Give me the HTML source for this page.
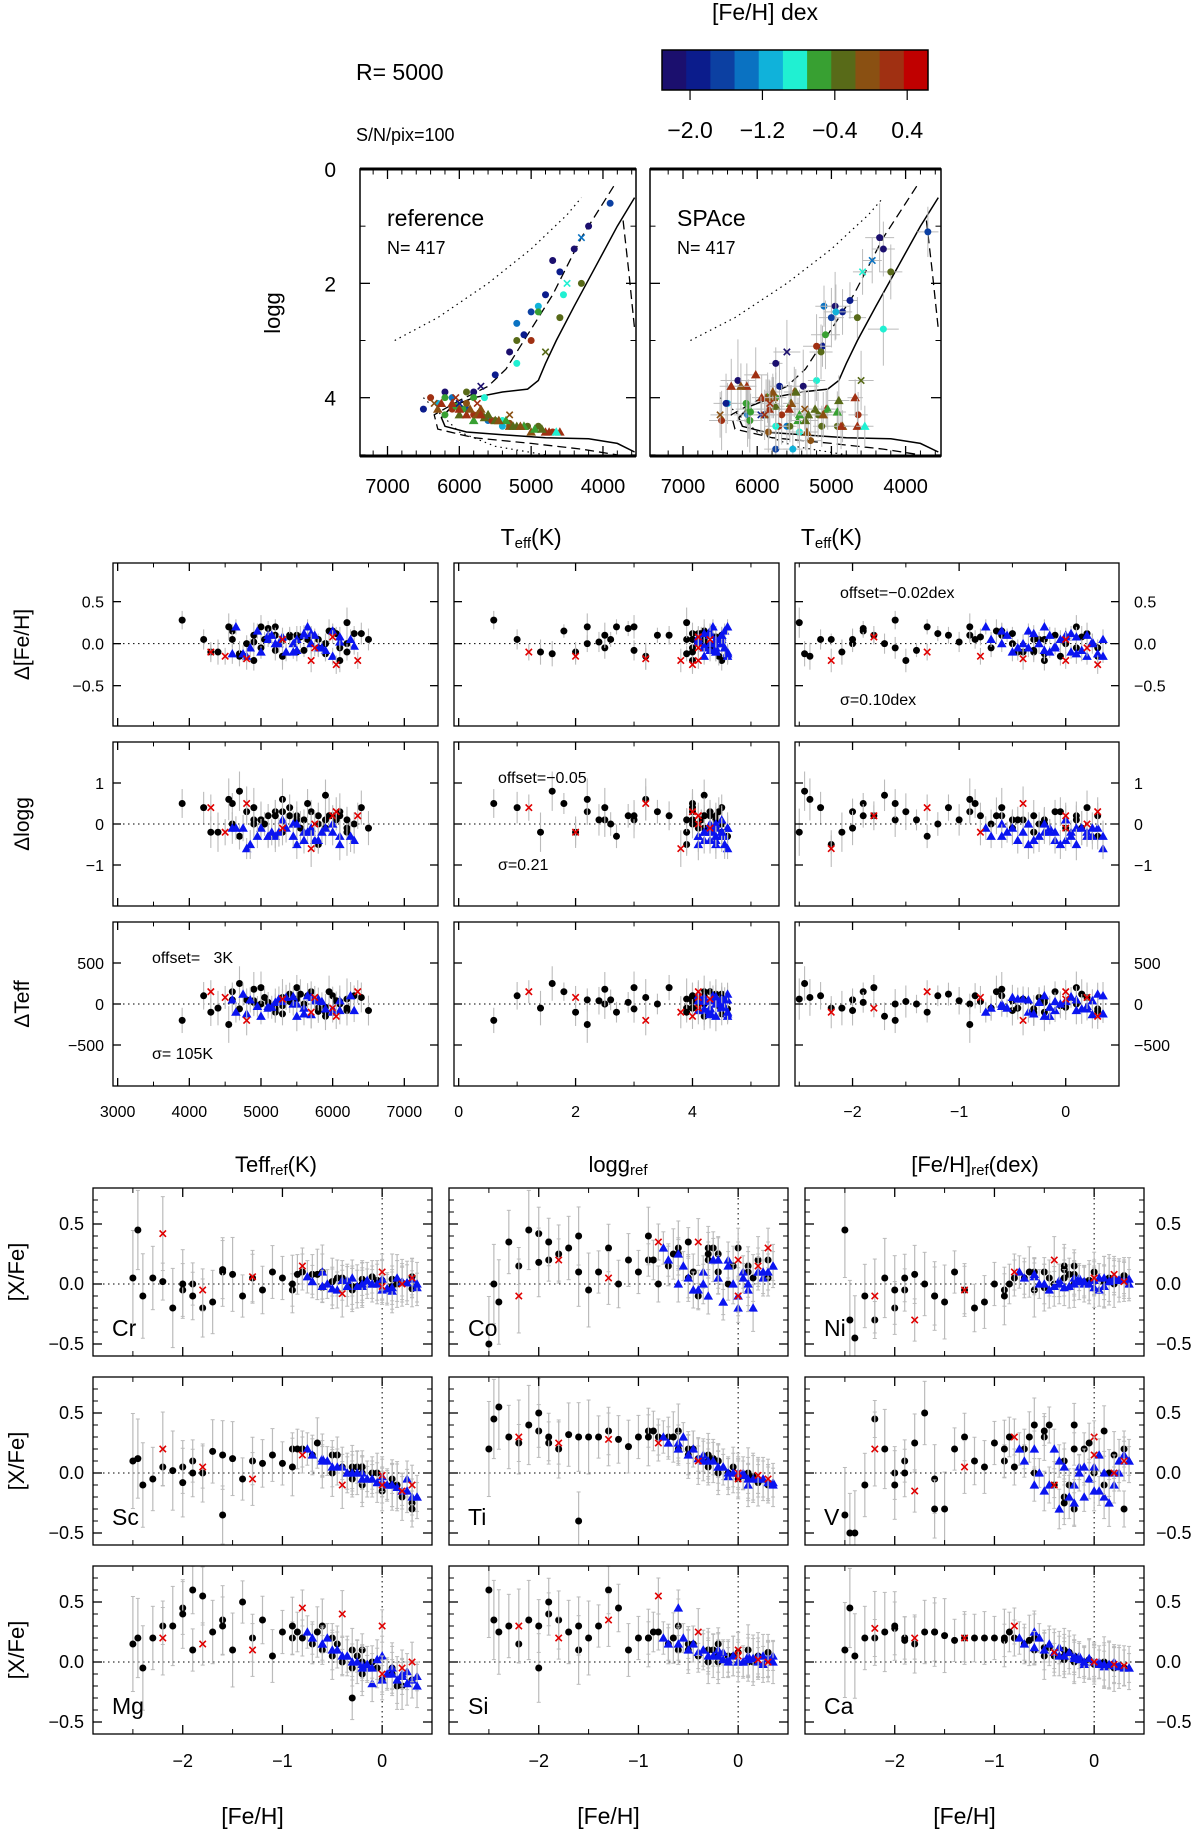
<!DOCTYPE html>
<html><head><meta charset="utf-8">
<style>
html,body{margin:0;padding:0;background:#fff;}
svg{display:block;font-family:"Liberation Sans",Arial,sans-serif;}
</style></head>
<body>
<svg id="chart" width="1200" height="1831" viewBox="0 0 1200 1831" xmlns="http://www.w3.org/2000/svg"></svg>
<script>
// ---------- data ----------
const starTeff=[4200,4400,4600,4800,5000,5200,5300,5500,5800,6100,6300,5900,6200,5600,5400,6500,4700,5100,3900,4300,5700,6000,4900,4500,5200,5800,6000,6200,5500,5300,4900,5700,5900,6100,6400,4700,5000,4600,4300,5400,5600,5800,6000,5200,5000,5500,5700,5900,6100,4800,5300,5650,6300,4600,5100,5450,6050,5300,4800,5750,5100,5350,5600,5850,6100,4750,4950,5250,5500,5750,6000,6250,4650,4850,5150,5450,5700,5950,6200,5050,5300,5550,5800,6050,4900,5200,5650,5900,4550,6350];
const starLogg=[1.0,1.4,1.8,2.2,2.5,2.7,3.2,3.6,3.9,4.0,4.1,4.2,3.9,4.4,4.5,4.2,1.6,2.9,0.6,1.2,3.8,4.1,2.4,2.0,3.4,4.0,4.2,4.3,4.4,4.5,4.5,4.3,4.1,4.2,4.0,4.6,3.0,2.6,2.0,4.4,4.3,4.4,4.3,4.5,4.6,4.4,4.2,4.3,4.1,4.6,4.5,4.35,4.2,4.6,4.5,4.4,4.0,4.3,3.2,4.1,4.5,4.4,4.3,4.2,4.1,4.6,4.55,4.5,4.4,4.3,4.2,4.1,4.6,4.55,4.5,4.4,4.3,4.2,4.0,4.5,4.45,4.4,4.3,4.15,2.5,3.0,4.0,3.9,2.2,4.1];
const starFeh=[-2.3,-2.1,-1.9,-2.0,-1.6,-1.3,-2.4,-1.8,-2.2,-1.5,-1.2,-1.7,-2.5,-1.4,-1.1,-2.0,-2.45,-1.9,-1.6,-1.3,-2.2,-1.8,-1.0,-0.8,-0.9,-0.7,-0.6,-0.5,-0.4,-0.3,-0.2,-0.1,0.0,0.1,0.2,0.3,0.1,-0.2,-0.3,-0.8,-0.55,-0.45,-0.35,-0.25,-0.15,-0.05,0.05,0.15,0.25,0.35,0.0,-0.2,-0.1,0.1,0.2,-0.6,0.3,0.0,-0.4,0.2,-0.7,-0.5,-0.3,-0.1,0.1,0.3,-0.6,-0.4,-0.2,0.0,0.2,0.35,-0.75,-0.35,-0.15,0.05,0.25,-0.65,-0.45,-0.25,-0.05,0.15,0.3,-0.5,-0.6,-0.3,-0.85,-0.2,-0.9,0.0];
const starType=[0,0,0,0,0,0,0,0,0,0,0,0,0,0,0,0,0,0,0,1,1,1,0,1,0,0,0,0,0,0,0,0,0,0,0,0,0,0,0,0,2,2,2,2,2,2,2,2,2,2,2,2,2,2,2,2,1,1,1,1,2,2,2,2,2,2,2,2,2,2,2,2,2,2,2,2,2,0,0,0,0,0,0,0,0,0,0,0,0,1];
const dFe=[0.05,-0.1,0.15,0.0,-0.05,0.2,-0.15,0.1,0.05,-0.2,0.12,0.0,0.25,-0.08,0.1,0.05,-0.12,0.18,0.28,-0.1,-0.2,0.08,0.02,-0.15,0.1,-0.05,0.15,0.0,-0.1,0.05,-0.2,0.1,0.0,-0.05,0.12,-0.15,0.2,0.05,-0.1,0.08,0.1,-0.05,0.15,0.0,-0.1,0.05,0.12,-0.08,0.02,-0.15,0.08,0.2,-0.03,-0.12,0.1,0.0,-0.25,0.05,-0.18,-0.05,0.05,-0.1,0.12,-0.05,0.08,-0.12,0.15,0.0,-0.08,0.1,-0.15,0.05,0.2,-0.05,0.1,-0.1,0.0,0.15,-0.1,0.05,-0.15,0.08,-0.05,0.12,0.1,-0.08,0.05,-0.12,0.2,-0.2];
const dLogg=[0.4,-0.2,0.5,0.3,0.1,-0.3,0.6,0.2,-0.5,0.3,0.0,0.7,-0.2,0.1,0.4,-0.1,0.8,0.2,0.5,0.4,-0.6,0.2,0.1,-0.2,0.3,0.0,0.2,-0.1,0.1,-0.2,0.0,0.3,-0.1,0.2,0.4,-0.3,0.1,0.0,-0.2,0.2,-0.2,-0.4,0.0,-0.3,-0.1,-0.5,-0.2,-0.1,-0.3,-0.6,0.1,-0.2,-0.4,-0.1,-0.3,0.0,0.3,-0.1,0.5,0.0,-0.3,-0.1,-0.4,-0.2,-0.5,-0.1,-0.3,-0.2,0.0,-0.4,-0.2,-0.3,-0.1,-0.5,-0.2,-0.3,-0.1,0.2,0.1,0.0,0.3,-0.1,0.2,0.1,0.4,0.2,0.5,0.1,0.6,0.2];
const dTeff=[100,-50,150,50,0,-100,80,200,-50,30,100,-150,60,0,120,-80,250,20,-200,150,-100,-50,40,80,0,-50,100,-80,60,-120,20,150,-40,0,80,-60,200,50,-100,30,-50,60,-100,20,-150,0,80,-60,40,-120,30,100,-80,50,-30,0,-150,60,-200,80,-50,80,-120,30,-80,120,-30,60,-150,40,-60,100,-100,50,-40,90,-130,150,-50,80,-20,120,-90,40,180,-60,100,-100,-250,150];
const errScale=[1.2,1.5,0.8,1.0,1.3,0.9,1.6,1.1,0.7,1.4,0.9,1.2,1.8,0.8,1.0,1.3,1.5,0.9,1.1,1.0,1.4,0.8,1.2,1.0,0.9,1.1,0.8,1.3,0.7,1.0,1.2,0.9,1.1,0.8,1.3,1.0,1.4,0.9,1.2,1.0,0.8,1.0,0.9,1.2,0.7,1.1,0.9,1.3,1.0,0.8,1.1,0.9,1.0,1.2,0.8,1.0,1.1,0.9,1.3,1.0,0.9,1.1,1.0,0.8,1.2,1.0,0.9,1.1,1.3,0.8,1.0,1.2,0.9,1.1,1.0,0.8,1.2,1.4,1.0,0.9,1.1,1.3,1.0,0.8,1.5,1.2,1.1,0.9,1.6,1.0];
const abCr=[0.05,-0.2,0.0,-0.05,0.1,0.05,-0.1,-0.2,0.02,0.08,-0.05,-0.15,0.05,-0.1,0.1,0.0,0.45,-0.1,0.12,0.06,0.42,-0.05,0.05,0.15,-0.05,0.08,-0.03,0.02,0.05,-0.02,0.0,0.06,0.03,-0.02,0.01,-0.04,0.04,0.0,-0.03,0.1,0.0,-0.05,0.03,-0.02,0.02,0.0,-0.04,0.05,0.01,-0.03,0.04,-0.02,0.0,-0.06,0.02,0.1,0.05,-0.02,-0.08,0.0,0.02,-0.04,0.05,0.0,-0.03,0.04,-0.02,0.03,0.0,-0.05,0.02,0.0,0.06,-0.02,0.03,-0.04,0.01,0.08,0.05,-0.02,0.03,0.0,0.06,0.02,0.1,-0.05,0.08,0.04,0.0,0.1];
const abCo=[0.35,0.45,0.2,0.42,0.1,0.3,-0.15,0.25,0.15,-0.05,0.0,0.3,-0.5,0.1,0.2,0.18,0.0,0.35,0.4,0.05,-0.1,0.2,0.1,0.35,0.2,0.15,0.25,0.05,-0.1,0.2,0.1,0.0,0.3,0.15,0.2,0.05,0.1,0.25,0.3,0.0,0.15,-0.05,0.1,0.2,-0.15,0.0,0.1,-0.2,0.05,0.15,-0.1,0.05,0.2,-0.05,0.1,0.0,0.3,-0.1,0.35,0.15,0.2,0.05,-0.1,0.15,0.0,0.1,0.25,-0.05,0.2,-0.2,0.1,0.15,0.3,0.0,-0.15,0.05,0.1,0.25,0.1,0.3,0.15,0.05,0.2,0.35,0.3,0.25,0.2,0.1,0.4,0.2];
const abNi=[-0.1,0.05,-0.05,-0.2,-0.1,-0.05,-0.45,0.08,-0.3,-0.15,-0.2,0.0,0.45,0.1,-0.15,-0.05,-0.3,0.05,-0.1,-0.05,-0.1,-0.3,0.0,0.1,-0.05,0.05,0.1,-0.03,0.0,0.05,0.08,0.02,0.1,0.03,0.0,0.05,0.02,0.0,0.15,0.05,0.0,-0.05,0.03,-0.02,0.05,0.0,-0.05,0.02,0.04,0.0,-0.03,0.05,0.0,-0.02,0.03,0.06,0.02,0.05,0.2,0.08,0.05,0.0,-0.03,0.02,0.05,0.03,0.08,-0.02,0.0,0.03,0.06,0.04,0.1,0.0,0.02,0.05,0.03,0.1,0.05,0.08,0.03,0.05,0.07,0.1,-0.05,0.12,0.0,0.15,-0.1,0.05];
const abSc=[-0.05,0.02,0.1,0.05,0.15,0.1,-0.1,0.0,0.05,0.12,0.08,0.18,0.1,-0.05,0.15,-0.08,0.12,0.0,-0.35,-0.05,0.2,0.05,0.08,0.15,0.2,0.15,0.1,0.0,0.05,-0.05,-0.1,0.0,-0.15,-0.05,-0.2,-0.3,-0.1,0.05,0.0,0.2,0.1,0.05,0.0,0.0,-0.05,-0.08,-0.1,-0.12,-0.05,-0.2,-0.03,0.0,-0.05,-0.1,-0.15,0.12,-0.1,-0.02,-0.1,-0.15,0.15,0.05,0.0,-0.05,-0.1,-0.2,0.1,0.05,-0.05,-0.08,-0.15,-0.2,0.2,0.0,-0.05,-0.1,-0.15,0.25,0.15,0.05,0.0,-0.1,-0.25,0.15,0.1,0.05,0.2,0.0,0.05,-0.1];
const abTi=[0.3,0.4,0.25,0.35,0.3,0.35,0.55,0.2,0.25,0.3,0.28,0.32,0.2,0.3,0.22,0.5,0.45,0.3,-0.4,0.28,0.3,0.25,0.3,0.25,0.35,0.3,0.2,0.15,0.12,0.05,0.0,0.0,-0.05,-0.05,-0.08,-0.1,0.0,0.1,0.15,0.3,0.3,0.2,0.15,0.1,0.05,0.0,0.0,-0.05,-0.05,-0.08,0.0,0.05,-0.03,-0.1,-0.05,0.25,-0.05,0.0,0.1,-0.02,0.25,0.15,0.1,0.0,-0.05,-0.08,0.2,0.12,0.05,0.0,-0.05,-0.1,0.3,0.1,0.05,-0.02,-0.05,0.3,0.2,0.12,0.05,-0.03,-0.08,0.2,0.35,0.1,0.35,0.1,0.3,-0.05];
const abV=[-0.1,0.2,0.1,0.0,-0.05,0.3,-0.5,0.25,0.45,-0.3,0.1,0.5,-0.35,0.2,0.05,-0.1,-0.5,0.0,-0.3,0.05,0.2,-0.15,0.25,0.3,0.1,0.2,0.0,0.3,-0.1,0.1,0.4,0.2,0.0,-0.1,0.15,-0.3,0.35,0.2,-0.2,0.05,0.0,-0.1,0.1,-0.2,0.05,-0.05,0.15,-0.25,0.0,0.1,-0.15,-0.1,0.05,-0.2,0.0,0.2,0.1,0.3,-0.1,0.0,0.1,-0.15,0.05,-0.2,0.0,0.15,-0.1,0.2,-0.25,0.05,-0.1,0.1,0.2,-0.3,0.0,-0.15,0.1,0.3,0.4,-0.1,0.25,0.0,0.2,0.35,0.4,-0.25,0.3,-0.3,0.2,0.15];
const abMg=[0.2,0.3,0.1,0.45,0.35,0.2,-0.05,0.55,0.3,0.1,0.35,0.25,0.15,0.5,0.05,0.4,0.2,0.6,0.3,0.1,0.2,0.15,0.25,0.45,0.2,0.15,0.1,0.05,0.0,-0.05,-0.1,0.0,-0.15,-0.1,-0.2,-0.15,-0.05,0.1,-0.3,0.2,0.2,0.1,0.05,0.0,-0.05,0.02,-0.1,-0.15,-0.08,-0.12,0.05,-0.02,-0.18,-0.05,-0.1,0.15,0.0,0.3,0.4,-0.05,0.2,0.1,0.0,-0.05,-0.1,-0.15,0.15,0.05,-0.05,-0.15,-0.12,-0.2,0.25,0.05,-0.02,-0.1,-0.18,0.25,0.15,0.05,-0.05,-0.2,-0.15,0.2,0.3,0.1,0.25,0.0,0.3,-0.1];
const abSi=[0.3,0.35,0.4,0.3,0.1,0.6,0.25,0.35,0.15,0.2,0.45,0.25,0.6,0.3,0.1,-0.05,0.35,0.5,0.3,0.35,0.3,0.2,0.2,0.55,0.2,0.15,0.1,0.1,0.05,0.1,0.0,0.05,0.08,0.0,0.05,0.02,0.1,0.15,0.0,0.25,0.2,0.15,0.1,0.05,0.08,0.05,0.0,0.03,-0.02,0.05,0.0,0.1,0.02,0.05,0.0,0.45,0.0,0.05,0.25,0.02,0.15,0.1,0.05,0.0,0.02,0.03,0.15,0.08,0.05,0.0,0.05,0.0,0.2,0.1,0.02,0.0,0.05,0.2,0.15,0.1,0.05,0.0,0.08,0.15,0.3,0.1,0.25,0.05,0.2,0.1];
const abCa=[0.2,0.25,0.2,0.28,0.25,0.2,0.05,0.15,0.2,0.22,0.2,0.25,0.1,0.18,0.2,0.3,0.45,0.18,0.25,0.2,0.28,0.2,0.2,0.3,0.18,0.15,0.1,0.05,0.05,0.02,0.0,0.0,-0.02,-0.03,-0.05,-0.05,0.0,0.05,0.1,0.2,0.2,0.15,0.12,0.08,0.05,0.03,0.0,-0.02,-0.03,-0.05,0.0,0.05,-0.02,-0.04,0.0,0.25,-0.03,0.0,0.08,-0.02,0.15,0.1,0.05,0.0,-0.02,-0.05,0.12,0.08,0.03,0.0,-0.03,-0.05,0.2,0.05,0.02,-0.02,-0.04,0.18,0.12,0.08,0.02,-0.03,-0.05,0.12,0.2,0.05,0.25,0.03,0.2,0.0];
const isoSolidTeff=[3560,3800,4100,4400,4650,4800,4900,5050,5400,5800,6100,6250,6200,5900,5400,4800,4200,3800,3560];
const isoSolidLogg=[0.5,1.0,1.7,2.4,3.0,3.4,3.7,3.85,3.9,4.0,4.15,4.35,4.5,4.6,4.65,4.7,4.72,4.8,4.95];
const isoDashTeff=[3850,4300,4700,5100,5350,5600,6000,6350,6300,5800,5000,4300,3800];
const isoDashLogg=[0.3,1.2,2.2,3.0,3.5,3.8,4.05,4.3,4.55,4.7,4.8,4.9,5.0];
const isoDash2Teff=[3720,3640,3560];
const isoDash2Logg=[0.9,1.8,2.8];
const isoDotTeff=[6900,6300,5600,5000,4500,4300];
const isoDotLogg=[3.0,2.6,2.0,1.4,0.8,0.5];
const isoDot2Teff=[6500,6000,5500,4800,4200];
const isoDot2Logg=[4.0,4.6,4.85,5.0,5.1];
const cbColors=['#1b0f6e','#0b1c8c','#0c40a2','#0a72c2','#10b2da','#20f0d2','#38a032','#586a18','#8a5012','#a03012','#c00000'];
const cbTicks=[-2.0,-1.2,-0.4,0.4];
const cbLabels=['\u22122.0','\u22121.2','\u22120.4','0.4'];

// ---------- helpers ----------
const NS='http://www.w3.org/2000/svg';
const svg=document.getElementById('chart');
let clipId=0;
function mk(tag,attrs,parent){const e=document.createElementNS(NS,tag);for(const k in attrs)e.setAttribute(k,attrs[k]);(parent||svg).appendChild(e);return e;}
function txt(s,x,y,size,anchor,parent){const t=mk('text',{x:x,y:y,'font-size':size,'text-anchor':anchor||'start',fill:'#000'},parent);t.textContent=s;return t;}
function panel(name,x0,y0,w,h,xd,yd){
  const g=mk('g',{});
  
  
  const cid='c'+(clipId++);
  const cp=mk('clipPath',{id:cid},g);mk('rect',{x:x0,y:y0,width:w,height:h},cp);
  const inner=mk('g',{'clip-path':'url(#'+cid+')'},g);
  return {x0,y0,w,h,g,inner,
    sx:v=>x0+(v-xd[0])/(xd[1]-xd[0])*w,
    sy:v=>y0+h-(v-yd[0])/(yd[1]-yd[0])*h};
}
function frame(p,sw){const r=mk('rect',{x:p.x0,y:p.y0,width:p.w,height:p.h,fill:'none',stroke:'#000','stroke-width':sw||1.5},p.g);}
function ticks(p,xs,ys,xminor,yminor,L){
  L=L||9;const l=L*0.55;
  const b=p.y0+p.h,t=p.y0,lft=p.x0,rt=p.x0+p.w;
  xs.forEach(v=>{const x=p.sx(v);mk('line',{x1:x,x2:x,y1:b,y2:b-L,stroke:'#000','stroke-width':1.3},p.g);mk('line',{x1:x,x2:x,y1:t,y2:t+L,stroke:'#000','stroke-width':1.3},p.g);});
  xminor.forEach(v=>{const x=p.sx(v);mk('line',{x1:x,x2:x,y1:b,y2:b-l,stroke:'#000','stroke-width':1},p.g);mk('line',{x1:x,x2:x,y1:t,y2:t+l,stroke:'#000','stroke-width':1},p.g);});
  ys.forEach(v=>{const y=p.sy(v);mk('line',{x1:lft,x2:lft+L,y1:y,y2:y,stroke:'#000','stroke-width':1.3},p.g);mk('line',{x1:rt,x2:rt-L,y1:y,y2:y,stroke:'#000','stroke-width':1.3},p.g);});
  yminor.forEach(v=>{const y=p.sy(v);mk('line',{x1:lft,x2:lft+l,y1:y,y2:y,stroke:'#000','stroke-width':1},p.g);mk('line',{x1:rt,x2:rt-l,y1:y,y2:y,stroke:'#000','stroke-width':1},p.g);});
}
function range(a,b,s){const r=[];for(let v=a;v<=b+1e-9;v+=s)r.push(+v.toFixed(4));return r;}
function sym(parent,type,x,y,color){
  let e;
  if(type===0){e=mk('circle',{cx:x,cy:y,r:3.5,fill:color},parent);}
  else if(type===1){const s=3.2;e=mk('path',{d:`M${x-s},${y-s}L${x+s},${y+s}M${x-s},${y+s}L${x+s},${y-s}`,stroke:color,'stroke-width':1.6,fill:'none'},parent);}
  else {const s=4.8;e=mk('path',{d:`M${x},${y-s}L${x+s},${y+s*0.75}L${x-s},${y+s*0.75}Z`,fill:color},parent);}
  return e;
}
const typeColor=['#000','#e00000','#0a14f0'];
function fehColor(f){let i=Math.floor((f+2.31)/0.267);i=Math.max(0,Math.min(10,i));return cbColors[i];}
function dotted(p,x1,y1,x2,y2){mk('line',{x1,y1,x2,y2,stroke:'#000','stroke-width':1,'stroke-dasharray':'1.5,3.5'},p.inner);}
function line(p,tx,ty,dash,sw){let d='';tx.forEach((v,i)=>{d+=(i?'L':'M')+p.sx(v).toFixed(1)+','+p.sy(ty[i]).toFixed(1);});return mk('path',{d,fill:'none',stroke:'#000','stroke-width':sw||1.3,'stroke-dasharray':dash||'none'},p.inner);}
function drawOrder(){const o=[];[0,2,1].forEach(t=>starType.forEach((v,i)=>{if(v===t)o.push(i);}));return o;}
const order=drawOrder();

// ---------- header / colorbar ----------
let t;
t=txt('[Fe/H] dex',765,20,23,'middle');
t=txt('R= 5000',356,80,23);
t=txt('S/N/pix=100',356,141,18);
const cb=mk('g',{});


const cbX0=662,cbW=266;
cbColors.forEach((c,i)=>{const r=mk('rect',{x:cbX0+i*cbW/11,y:50,width:cbW/11+0.5,height:40,fill:c},cb);});
mk('rect',{x:cbX0,y:50,width:cbW,height:40,fill:'none',stroke:'#000','stroke-width':1.5},cb);
cbTicks.forEach((v,i)=>{const x=cbX0+(v+2.31)/2.94*cbW;mk('line',{x1:x,x2:x,y1:90,y2:100,stroke:'#000','stroke-width':1.2},cb);const tl=txt(cbLabels[i],x,138,23,'middle',cb);});

// ---------- HR diagrams ----------
function hrPanel(name,x0,w,xd,title,isSpace){
  const p=panel(name,x0,169,w,287,xd,[5.02,0]);
  line(p,isoDotTeff,isoDotLogg,'1.5,4',1.2);
  line(p,isoDot2Teff,isoDot2Logg,'1.5,4',1.2);
  line(p,isoDashTeff,isoDashLogg,'9,5',1.3);
  line(p,isoDash2Teff,isoDash2Logg,'9,5',1.3);
  line(p,isoSolidTeff,isoSolidLogg,null,1.5);
  order.forEach(i=>{
    let te=starTeff[i],lg=starLogg[i];
    if(isSpace){te+=dTeff[i];lg+=dLogg[i];
      const ex=errScale[i]*130,ey=errScale[i]*0.4;
      mk('line',{x1:p.sx(te-ex),x2:p.sx(te+ex),y1:p.sy(lg),y2:p.sy(lg),stroke:'#bbb','stroke-width':1},p.inner);
      mk('line',{x1:p.sx(te),x2:p.sx(te),y1:p.sy(lg-ey),y2:p.sy(lg+ey),stroke:'#bbb','stroke-width':1},p.inner);}
    const s=sym(p.inner,starType[i],p.sx(te),p.sy(lg),fehColor(starFeh[i]));
    
    
  });
  frame(p,1.5);
  mk('line',{x1:x0,x2:x0+w,y1:169,y2:169,stroke:'#000','stroke-width':3},p.g);
  mk('line',{x1:x0,x2:x0+w,y1:456,y2:456,stroke:'#000','stroke-width':3},p.g);
  ticks(p,[7000,6000,5000,4000],[0,2,4],range(3600,7300,200).filter(v=>v%1000),[1,3,5],10);
  [7000,6000,5000,4000].forEach(v=>{const l=txt(String(v),p.sx(v),493,20,'middle');});
  t=txt(title,x0+27,226,23);
  t=txt('N= 417',x0+27,254,18);
  const xl=mk('text',{x:p.sx(5000),y:545,'font-size':23,'text-anchor':'middle'});
  xl.innerHTML='T<tspan font-size="15" dy="3">eff</tspan><tspan dy="-3">(K)</tspan>';
  
  
  return p;
}
hrPanel('hr-reference',360,276,[7383,3540],'reference',false);
hrPanel('hr-space',650,291,[7445,3523],'SPAce',true);
[[0,'0'],[2,'2'],[4,'4']].forEach(([v,s])=>{const y=169+(v)/5.02*287;t=txt(s,336,y+8,21,'end');});
t=mk('text',{x:0,y:0,'font-size':22,'text-anchor':'middle',transform:'translate(280,313) rotate(-90)'});t.textContent='logg';



// ---------- middle residual grid ----------
const midCols=[{x:113,w:325,xd:[2935,7470],vals:starTeff,tk:[3000,4000,5000,6000,7000],lab:['3000','4000','5000','6000','7000'],minor:range(3500,7000,500).filter(v=>v%1000)},
  {x:454,w:325,xd:[-0.08,5.48],vals:starLogg,tk:[0,2,4],lab:['0','2','4'],minor:[1,3,5]},
  {x:795,w:324,xd:[-2.54,0.5],vals:starFeh,tk:[-2,-1,0],lab:['\u22122','\u22121','0'],minor:[-2.5,-1.5,-0.5]}];
const midRows=[{y:563,h:163,yd:[-0.98,0.96],vals:dFe,err:0.1,tk:[-0.5,0,0.5],lab:['\u22120.5','0.0','0.5'],title:'\u0394[Fe/H]'},
  {y:742,h:164,yd:[-2,2],vals:dLogg,err:0.32,tk:[-1,0,1],lab:['\u22121','0','1'],title:'\u0394logg'},
  {y:922,h:164,yd:[-1000,1000],vals:dTeff,err:140,tk:[-500,0,500],lab:['\u2212500','0','500'],title:'\u0394Teff'}];
midRows.forEach((R,ri)=>{
  midCols.forEach((C,ci)=>{
    const p=panel('residual-panel-r'+ri+'-c'+ci,C.x,R.y,C.w,R.h,C.xd,R.yd);
    dotted(p,C.x,p.sy(0),C.x+C.w,p.sy(0));
    order.forEach(i=>{const x=p.sx(C.vals[i]),y=p.sy(R.vals[i]),e=errScale[i]*R.err;
      mk('line',{x1:x,x2:x,y1:p.sy(R.vals[i]-e),y2:p.sy(R.vals[i]+e),stroke:'#bbb','stroke-width':1.1},p.inner);
      const s=sym(p.inner,starType[i],x,y,typeColor[starType[i]]);
      
      });
    frame(p,1.3);
    ticks(p,C.tk,R.tk,C.minor,[],8);
    if(ri===2)C.tk.forEach((v,k)=>{const l=txt(C.lab[k],p.sx(v),1117,16,'middle');});
    if(ci===0)R.tk.forEach((v,k)=>{const l=txt(R.lab[k],104,p.sy(v)+6,16,'end');});
    if(ci===2)R.tk.forEach((v,k)=>{const l=txt(R.lab[k],1134,p.sy(v)+6,16,'start');});
  });
  const tt=mk('text',{x:0,y:0,'font-size':21,'text-anchor':'middle',transform:`translate(29,${R.y+R.h/2}) rotate(-90)`});tt.textContent=R.title;
  
  
});
[['offset=\u22120.02dex',840,598],['\u03c3=0.10dex',840,705],['offset=\u22120.05',498,783],['\u03c3=0.21',498,870],['offset=   3K',152,963],['\u03c3= 105K',152,1059]].forEach(a=>{const l=txt(a[0],a[1],a[2],16);l.setAttribute('xml:space','preserve');l.style.whiteSpace='pre';});
[['Teff','ref','(K)',276],['logg','ref','',618],['[Fe/H]','ref','(dex)',975]].forEach(a=>{const l=mk('text',{x:a[3],y:1172,'font-size':22,'text-anchor':'middle'});l.innerHTML=a[0]+'<tspan font-size="15" dy="3">'+a[1]+'</tspan><tspan dy="-3">'+a[2]+'</tspan>';});

// ---------- abundance grid ----------
const abCols=[93,449,805];const abRows=[1188,1377,1566];
const abPanels=[['Cr',abCr],['Co',abCo],['Ni',abNi],['Sc',abSc],['Ti',abTi],['V',abV],['Mg',abMg],['Si',abSi],['Ca',abCa]];
abPanels.forEach((a,k)=>{
  const ci=k%3,ri=Math.floor(k/3);
  const p=panel('abundance-panel-'+a[0].toLowerCase(),abCols[ci],abRows[ri],339,168,[-2.9,0.5],[-0.6,0.8]);
  dotted(p,p.x0,p.sy(0),p.x0+p.w,p.sy(0));
  dotted(p,p.sx(0),p.y0,p.sx(0),p.y0+p.h);
  order.forEach(i=>{const x=p.sx(starFeh[i]),v=a[1][i],e=errScale[i]*(starFeh[i]<-1?0.22:0.15);
    mk('line',{x1:x,x2:x,y1:p.sy(v-e),y2:p.sy(v+e),stroke:'#bbb','stroke-width':1.2},p.inner);
    mk('line',{x1:x-2,x2:x+2,y1:p.sy(v+e),y2:p.sy(v+e),stroke:'#bbb','stroke-width':1},p.inner);
    mk('line',{x1:x-2,x2:x+2,y1:p.sy(v-e),y2:p.sy(v-e),stroke:'#bbb','stroke-width':1},p.inner);
    const s=sym(p.inner,starType[i],x,p.sy(v),typeColor[starType[i]]);
    
    });
  frame(p,1.3);
  ticks(p,[-2,-1,0],[-0.5,0,0.5],[-2.5,-1.5,-0.5],range(-0.5,0.7,0.1).filter(v=>Math.abs((v*10)%5)>0.01),9);
  const el=txt(a[0],p.x0+19,p.y0+p.h-20,23);
  if(ri===2)[[-2,'\u22122'],[-1,'\u22121'],[0,'0']].forEach(([v,s])=>{const l=txt(s,p.sx(v),1767,18,'middle');});
  if(ci===0)[[0.5,'0.5'],[0,'0.0'],[-0.5,'\u22120.5']].forEach(([v,s])=>{const l=txt(s,84,p.sy(v)+6,18,'end');});
  if(ci===2)[[0.5,'0.5'],[0,'0.0'],[-0.5,'\u22120.5']].forEach(([v,s])=>{const l=txt(s,1156,p.sy(v)+6,18,'start');});
  if(ci===0){const tt=mk('text',{x:0,y:0,'font-size':22,'text-anchor':'middle',transform:`translate(24,${p.y0+p.h/2}) rotate(-90)`});tt.textContent='[X/Fe]';
    
    }
  if(ri===2){const l=txt('[Fe/H]',p.x0+p.w/2-10,1824,23,'middle');}
});
</script>
</body></html>
